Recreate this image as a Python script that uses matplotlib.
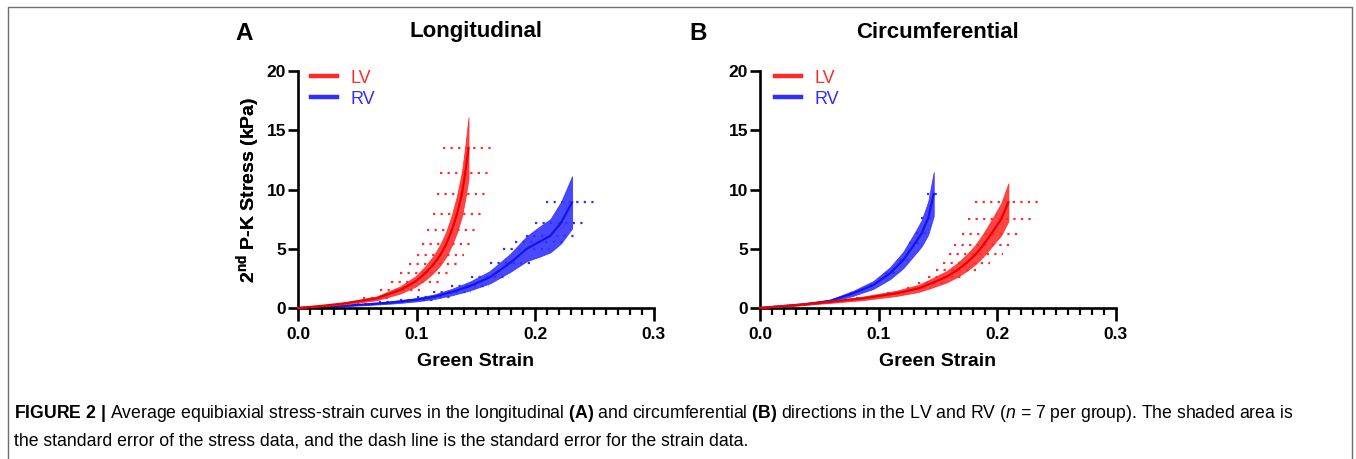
import matplotlib
matplotlib.use("Agg")
import matplotlib.pyplot as plt
import numpy as np
from matplotlib.lines import Line2D

# ---------------- data ----------------
# Panel A (Longitudinal)
long_lv_strain = [0, 0.02, 0.04, 0.0665, 0.0862, 0.0989, 0.1073, 0.1144, 0.120, 0.125, 0.1299, 0.1341, 0.1383, 0.1411, 0.1439]
long_lv_stress = [0, 0.18, 0.40, 0.82, 1.52, 2.22, 2.93, 3.69, 4.47, 5.37, 6.58, 7.90, 9.60, 11.40, 13.50]
long_lv_stress_se = [0, 0.04, 0.08, 0.16, 0.30, 0.43, 0.57, 0.72, 0.87, 1.05, 1.28, 1.54, 1.87, 2.22, 2.60]
long_lv_strain_se = [0, 0.003, 0.006, 0.012, 0.017, 0.020, 0.021, 0.021, 0.020, 0.0204, 0.021, 0.0205, 0.0207, 0.0211, 0.0214]

long_rv_strain = [0, 0.02, 0.04, 0.06, 0.08, 0.10, 0.115, 0.13, 0.145, 0.162, 0.179, 0.193, 0.203, 0.213, 0.222, 0.2313]
long_rv_stress = [0, 0.10, 0.20, 0.32, 0.48, 0.70, 0.95, 1.35, 1.85, 2.60, 3.80, 5.00, 5.55, 6.10, 7.20, 8.92]
long_rv_stress_se = [0, 0.02, 0.04, 0.06, 0.10, 0.14, 0.19, 0.27, 0.37, 0.52, 0.76, 1.05, 1.25, 1.40, 1.75, 2.20]
long_rv_strain_se = [0, 0.004, 0.007, 0.010, 0.012, 0.014, 0.015, 0.016, 0.016, 0.016, 0.017, 0.020, 0.020, 0.021, 0.0218, 0.022]

# Panel B (Circumferential)
circ_lv_strain = [0, 0.0338, 0.0591, 0.0872, 0.1153, 0.134, 0.146, 0.1575, 0.1665, 0.1745, 0.182, 0.1885, 0.195, 0.2035, 0.2096]
circ_lv_stress = [0, 0.28, 0.52, 0.82, 1.24, 1.66, 2.14, 2.64, 3.20, 3.82, 4.53, 5.32, 6.24, 7.48, 8.92]
circ_lv_stress_se = [0, 0.05, 0.09, 0.15, 0.22, 0.30, 0.39, 0.48, 0.58, 0.69, 0.82, 0.96, 1.12, 1.35, 1.60]
circ_lv_strain_se = [0, 0.002, 0.004, 0.006, 0.008, 0.010, 0.013, 0.0155, 0.018, 0.020, 0.0227, 0.025, 0.0246, 0.028, 0.028]

circ_rv_strain = [0, 0.0365, 0.0591, 0.0787, 0.0956, 0.1097, 0.1209, 0.1308, 0.1364, 0.1420, 0.1466]
circ_rv_stress = [0, 0.30, 0.60, 1.24, 1.94, 2.93, 4.05, 5.46, 6.30, 7.60, 9.62]
circ_rv_stress_se = [0, 0.05, 0.10, 0.21, 0.33, 0.50, 0.69, 0.93, 1.10, 1.40, 1.85]
circ_rv_strain_se = [0, 0.001, 0.002, 0.003, 0.003, 0.004, 0.004, 0.005, 0.005, 0.006, 0.006]

x_ticks = [0.0, 0.1, 0.2, 0.3]
x_tick_labels = ["0.0", "0.1", "0.2", "0.3"]
y_ticks = [0, 5, 10, 15, 20]
panel_titles = ["Longitudinal", "Circumferential"]
panel_letters = ["A", "B"]
legend_labels = ["LV", "RV"]

caption_1 = (r"$\mathbf{FIGURE\ 2\ |}$ Average equibiaxial stress-strain curves in the longitudinal "
             r"$\mathbf{(A)}$ and circumferential $\mathbf{(B)}$ directions in the LV and RV "
             r"($\mathit{n}$ = 7 per group). The shaded area is")
caption_2 = "the standard error of the stress data, and the dash line is the standard error for the strain data."

# ---------------- style ----------------
plt.rcParams['font.family'] = ['Liberation Sans', 'DejaVu Sans']
plt.rcParams['mathtext.fontset'] = 'custom'
plt.rcParams['mathtext.rm'] = 'Liberation Sans'
plt.rcParams['mathtext.bf'] = 'Liberation Sans:bold'
plt.rcParams['mathtext.it'] = 'Liberation Sans:italic'

W, H = 1356, 459
DPI = 100
fig = plt.figure(figsize=(W / DPI, H / DPI), dpi=DPI)

RED_BAND = '#ff2a2a'
RED_LINE = '#ee0000'
BLUE_BAND = '#2f2fff'
BLUE_LINE = '#1414ee'

def px_ax(l, r, b, t):
    return [l / W, 1 - b / H, (r - l) / W, (b - t) / H]

axes_px = [(298, 653.5, 308, 71), (760, 1115.5, 308, 71)]
legend_offset_px = [12.5, 15]

def draw_series(ax, strain, stress, sse, xse, band, line, z):
    strain = np.asarray(strain); stress = np.asarray(stress)
    sse = np.asarray(sse); xse = np.asarray(xse)
    ax.fill_between(strain, stress - sse, stress + sse, color=band, alpha=0.88,
                    linewidth=0.6, edgecolor=band, zorder=z, clip_on=False)
    ax.plot(strain, stress, color=line, lw=1.6, zorder=z + 0.2, clip_on=False)
    ax.hlines(stress[3:], strain[3:] - xse[3:], strain[3:] + xse[3:], colors=band,
              linestyles=[(0, (1.0, 2.4))], linewidth=1.6, zorder=z + 0.1)

series = [
    [(long_rv_strain, long_rv_stress, long_rv_stress_se, long_rv_strain_se, BLUE_BAND, BLUE_LINE, 2),
     (long_lv_strain, long_lv_stress, long_lv_stress_se, long_lv_strain_se, RED_BAND, RED_LINE, 3)],
    [(circ_rv_strain, circ_rv_stress, circ_rv_stress_se, circ_rv_strain_se, BLUE_BAND, BLUE_LINE, 2),
     (circ_lv_strain, circ_lv_stress, circ_lv_stress_se, circ_lv_strain_se, RED_BAND, RED_LINE, 3)],
]

for i, (l, r, b, t) in enumerate(axes_px):
    ax = fig.add_axes(px_ax(l, r, b, t))
    for s in series[i]:
        draw_series(ax, *s)
    ax.set_xlim(0, 0.3)
    ax.set_ylim(0, 20)
    for sp in ['top', 'right']:
        ax.spines[sp].set_visible(False)
    for sp in ['left', 'bottom']:
        ax.spines[sp].set_linewidth(1.9)
    ax.set_xticks(x_ticks)
    ax.set_xticklabels(x_tick_labels)
    ax.set_xticks(np.arange(0, 0.3001, 0.01), minor=True)
    ax.set_yticks(y_ticks)
    ax.tick_params(axis='x', which='major', length=9.5, width=1.9, pad=4, labelsize=12.5)
    ax.tick_params(axis='x', which='minor', length=5, width=1.6)
    ax.tick_params(axis='y', which='major', length=7, width=1.9, pad=1.5, labelsize=12.5)
    for lab in ax.get_xticklabels() + ax.get_yticklabels():
        lab.set_fontweight('bold')
    ax.set_xlabel("Green Strain", fontsize=14, fontweight='bold')
    ax.xaxis.label.set_va('center')
    ax.xaxis.set_label_coords(0.5, (308 - 361.7) / 237)
    ax.set_ylabel(r"2$^{\mathbf{nd}}$ P-K Stress (kPa)", fontsize=14, fontweight='bold')
    ax.yaxis.label.set_va('center')
    ax.yaxis.set_label_coords((248 - l) / (r - l), 0.498)
    # legend
    handles = [Line2D([], [], color=RED_BAND, lw=3.2), Line2D([], [], color=BLUE_BAND, lw=3.2)]
    ax.legend(handles, legend_labels, loc='upper left',
              bbox_to_anchor=(legend_offset_px[i] / (r - l), 1.006),
              frameon=False, borderpad=0, borderaxespad=0, handlelength=1.45,
              handletextpad=0.75, labelspacing=0.22, fontsize=13,
              labelcolor=[RED_BAND, BLUE_BAND])
    cx = (l + r) / 2
    fig.text(cx / W, 1 - 32 / H, panel_titles[i], fontsize=16, fontweight='bold',
             ha='center', va='center')
    fig.text([235, 689][i] / W, 1 - 33 / H, panel_letters[i], fontsize=17.5,
             fontweight='bold', ha='left', va='center')

# caption
fig.text(14 / W, 1 - 418 / H, caption_1, fontsize=12.7, ha='left', va='baseline')
fig.text(14 / W, 1 - 445 / H, caption_2, fontsize=12.7, ha='left', va='baseline')

# frame border
fig.add_artist(Line2D([8 / W, 8 / W, 1352 / W, 1352 / W], [0, 1 - 6.5 / H, 1 - 6.5 / H, 0],
                      transform=fig.transFigure, color='#6e6e6e', lw=1.0))

fig.savefig("out.png", dpi=DPI)
